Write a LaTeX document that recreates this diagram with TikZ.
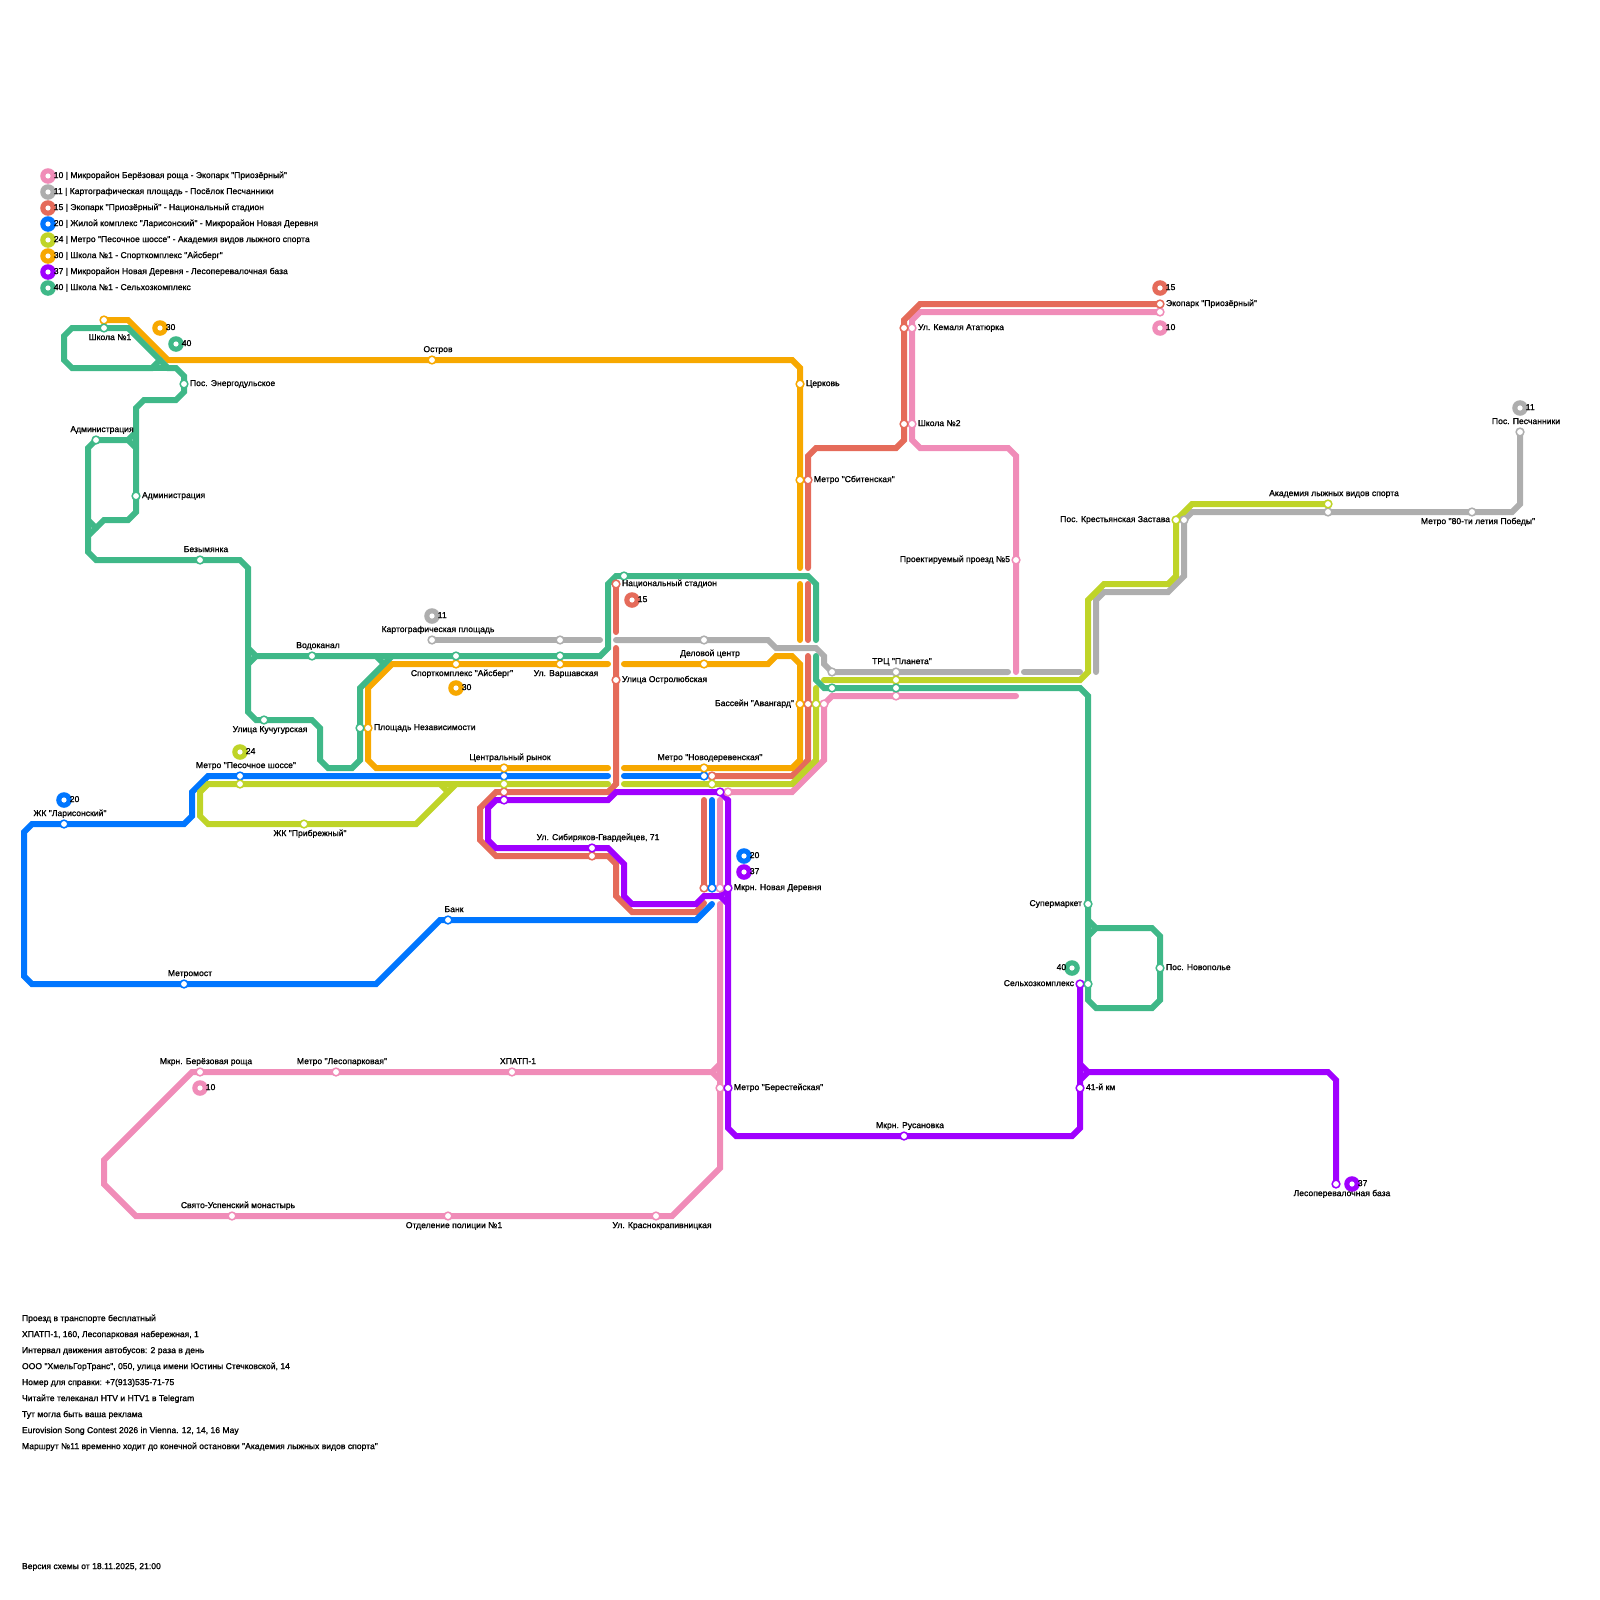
\documentclass[tikz,border=0pt]{standalone}
\usepackage{fontspec}
\newfontfamily\mapfont{Liberation Sans}[FakeBold=1.1]
\usetikzlibrary{positioning, backgrounds}

\definecolor{pinkline}{HTML}{F08CB8}
\definecolor{greyline}{HTML}{AEAEAE}
\definecolor{redline}{HTML}{E56B5A}
\definecolor{blueline}{HTML}{0076FF}
\definecolor{limeline}{HTML}{BFD428}
\definecolor{orangeline}{HTML}{F7A800}
\definecolor{purpleline}{HTML}{A000FF}
\definecolor{greenline}{HTML}{3FB888}

\begin{document}
\begin{tikzpicture}[
    x=0.5pt, y=-0.5pt,
    every node/.style={font=\mapfont\fontsize{4.3}{5}\selectfont},
    route/.style={color=#1, line width=3pt, line cap=round, line join=miter},
    stopmark/.style={circle, fill=#1, minimum size=4.7pt, inner sep=0pt, outer sep=0pt,
        path picture={\fill[white] (path picture bounding box.center) circle (1.45pt);}},
    badgemark/.style={circle, fill=#1, minimum size=7.8pt, inner sep=0pt, outer sep=0pt,
        path picture={\fill[white] (path picture bounding box.center) circle (1.3pt);}},
    tag/.style={inner sep=0pt, outer sep=0pt, text height=2.1pt, text depth=0pt},
    tagright/.style={tag, right=0.65pt of #1},
    tagleft/.style={tag, left=0.65pt of #1},
    tagabove/.style={tag, above=1.6pt of #1, xshift=3pt},
    tagbelow/.style={tag, below=1.6pt of #1, xshift=3pt},
    tagnum/.style={tag, right=-1pt of #1},
    note/.style={tag, anchor=west},
]
\useasboundingbox (0,0) rectangle (1600,1600);

% --- Legend ---
\node[badgemark=pinkline] (leg10) at (48,176) {};
\node[badgemark=greyline] (leg11) at (48,192) {};
\node[badgemark=redline] (leg15) at (48,208) {};
\node[badgemark=blueline] (leg20) at (48,224) {};
\node[badgemark=limeline] (leg24) at (48,240) {};
\node[badgemark=orangeline] (leg30) at (48,256) {};
\node[badgemark=purpleline] (leg37) at (48,272) {};
\node[badgemark=greenline] (leg40) at (48,288) {};
\node[tagnum=leg10] (legt10) {10 | Микрорайон Берёзовая роща - Экопарк "Приозёрный"};
\node[tagnum=leg11] (legt11) {11 | Картографическая площадь - Посёлок Песчанники};
\node[tagnum=leg15] (legt15) {15 | Экопарк "Приозёрный" - Национальный стадион};
\node[tagnum=leg20] (legt20) {20 | Жилой комплекс "Ларисонский" - Микрорайон Новая Деревня};
\node[tagnum=leg24] (legt24) {24 | Метро "Песочное шоссе" - Академия видов лыжного спорта};
\node[tagnum=leg30] (legt30) {30 | Школа №1 - Спорткомплекс "Айсберг"};
\node[tagnum=leg37] (legt37) {37 | Микрорайон Новая Деревня - Лесоперевалочная база};
\node[tagnum=leg40] (legt40) {40 | Школа №1 - Сельхозкомплекс};

% --- Free ends of the routes ---
\coordinate (pinkcutA) at (1016,672);
\coordinate (pinkcutB) at (1016,696);
\coordinate (pinkcutC) at (720,800);
\coordinate (pinkcutD) at (720,904);
\coordinate (pinkjoin) at (720,1064);
\coordinate (greycutA) at (600,640);
\coordinate (greycutB) at (616,640);
\coordinate (greycutC) at (1008,672);
\coordinate (greycutD) at (1024,672);
\coordinate (greycutE) at (1080,672);
\coordinate (greycutF) at (1096,672);
\coordinate (redcutA) at (808,568);
\coordinate (redcutB) at (808,584);
\coordinate (redcutC) at (808,640);
\coordinate (redcutD) at (808,656);
\coordinate (redcutE) at (704,800);
\coordinate (redcutF) at (704,903);
\coordinate (redcutG) at (616,632);
\coordinate (redcutH) at (616,648);
\coordinate (bluecutA) at (608,776);
\coordinate (bluecutB) at (624,776);
\coordinate (bluecutC) at (712,800);
\coordinate (bluecutD) at (712,904);
\coordinate (limecutA) at (608,784);
\coordinate (limecutB) at (624,784);
\coordinate (limecutC) at (816,688);
\coordinate (limecutD) at (824,680);
\coordinate (limejoin) at (440,784);
\coordinate (orangecutA) at (800,568);
\coordinate (orangecutB) at (800,584);
\coordinate (orangecutC) at (800,640);
\coordinate (orangecutD) at (608,664);
\coordinate (orangecutE) at (624,664);
\coordinate (orangecutF) at (608,768);
\coordinate (orangecutG) at (624,768);
\coordinate (greencutA) at (816,640);
\coordinate (greencutB) at (816,656);
\coordinate (greenjoinA) at (160,360);
\coordinate (greenjoinB) at (136,432);
\coordinate (greenjoinC) at (136,448);
\coordinate (greenjoinD) at (88,520);
\coordinate (greenjoinE) at (248,648);
\coordinate (greenjoinF) at (248,664);
\coordinate (greenjoinG) at (376,656);
\coordinate (greenjoinH) at (1088,920);
\coordinate (greenjoinI) at (1088,936);
\coordinate (purplejoinA) at (728,888);
\coordinate (purplejoinB) at (1080,1064);

% --- Stops, route 10 ---
\node[stopmark=pinkline] (ekopark10) at (1160,312) {};
\node[stopmark=pinkline] (kemal10) at (912,328) {};
\node[stopmark=pinkline] (shkola10) at (912,424) {};
\node[stopmark=pinkline] (proezd10) at (1016,560) {};
\node[stopmark=pinkline] (planeta10) at (896,696) {};
\node[stopmark=pinkline] (avangard10) at (824,704) {};
\node[stopmark=pinkline] (novoder10) at (728,792) {};
\node[stopmark=pinkline] (derevnya10) at (720,888) {};
\node[stopmark=pinkline] (berest10) at (720,1088) {};
\node[stopmark=pinkline] (berez10) at (200,1072) {};
\node[stopmark=pinkline] (lespark10) at (336,1072) {};
\node[stopmark=pinkline] (hpatp10) at (512,1072) {};
\node[stopmark=pinkline] (uspen10) at (232,1216) {};
\node[stopmark=pinkline] (policia10) at (448,1216) {};
\node[stopmark=pinkline] (krasno10) at (656,1216) {};

% --- Stops, route 11 ---
\node[stopmark=greyline] (karto11) at (432,640) {};
\node[stopmark=greyline] (varsh11) at (560,640) {};
\node[stopmark=greyline] (delovoy11) at (704,640) {};
\node[stopmark=greyline] (planeta11) at (896,672) {};
\node[stopmark=greyline] (tochka11) at (832,672) {};
\node[stopmark=greyline] (zastava11) at (1184,520) {};
\node[stopmark=greyline] (akadem11) at (1328,512) {};
\node[stopmark=greyline] (pobeda11) at (1472,512) {};
\node[stopmark=greyline] (peschan11) at (1520,432) {};

% --- Stops, route 15 ---
\node[stopmark=redline] (ekopark15) at (1160,304) {};
\node[stopmark=redline] (kemal15) at (904,328) {};
\node[stopmark=redline] (shkola15) at (904,424) {};
\node[stopmark=redline] (sbiten15) at (808,480) {};
\node[stopmark=redline] (stadion15) at (616,584) {};
\node[stopmark=redline] (ostrol15) at (616,680) {};
\node[stopmark=redline] (avangard15) at (808,704) {};
\node[stopmark=redline] (novoder15) at (712,776) {};
\node[stopmark=redline] (derevnya15) at (704,888) {};
\node[stopmark=redline] (rynok15) at (504,792) {};
\node[stopmark=redline] (sibir15) at (592,856) {};

% --- Stops, route 20 ---
\node[stopmark=blueline] (laris20) at (64,824) {};
\node[stopmark=blueline] (pesoch20) at (240,776) {};
\node[stopmark=blueline] (rynok20) at (504,776) {};
\node[stopmark=blueline] (novoder20) at (704,776) {};
\node[stopmark=blueline] (derevnya20) at (712,888) {};
\node[stopmark=blueline] (bank20) at (448,920) {};
\node[stopmark=blueline] (metromost20) at (184,984) {};

% --- Stops, route 24 ---
\node[stopmark=limeline] (pesoch24) at (240,784) {};
\node[stopmark=limeline] (rynok24) at (504,784) {};
\node[stopmark=limeline] (novoder24) at (712,784) {};
\node[stopmark=limeline] (pribrezh24) at (304,824) {};
\node[stopmark=limeline] (avangard24) at (816,704) {};
\node[stopmark=limeline] (planeta24) at (896,680) {};
\node[stopmark=limeline] (zastava24) at (1176,520) {};
\node[stopmark=limeline] (akadem24) at (1328,504) {};

% --- Stops, route 30 ---
\node[stopmark=orangeline] (shkola30) at (104,320) {};
\node[stopmark=orangeline] (ostrov30) at (432,360) {};
\node[stopmark=orangeline] (cerkov30) at (800,384) {};
\node[stopmark=orangeline] (sbiten30) at (800,480) {};
\node[stopmark=orangeline] (aysberg30) at (456,664) {};
\node[stopmark=orangeline] (varsh30) at (560,664) {};
\node[stopmark=orangeline] (delovoy30) at (704,664) {};
\node[stopmark=orangeline] (avangard30) at (800,704) {};
\node[stopmark=orangeline] (nezavis30) at (368,728) {};
\node[stopmark=orangeline] (rynok30) at (504,768) {};
\node[stopmark=orangeline] (novoder30) at (704,768) {};

% --- Stops, route 37 ---
\node[stopmark=purpleline] (novoder37) at (720,792) {};
\node[stopmark=purpleline] (rynok37) at (504,800) {};
\node[stopmark=purpleline] (sibir37) at (592,848) {};
\node[stopmark=purpleline] (derevnya37) at (728,888) {};
\node[stopmark=purpleline] (berest37) at (728,1088) {};
\node[stopmark=purpleline] (rusan37) at (904,1136) {};
\node[stopmark=purpleline] (km37) at (1080,1088) {};
\node[stopmark=purpleline] (selhoz37) at (1080,984) {};
\node[stopmark=purpleline] (baza37) at (1336,1184) {};

% --- Stops, route 40 ---
\node[stopmark=greenline] (shkola40) at (104,328) {};
\node[stopmark=greenline] (energo40) at (184,384) {};
\node[stopmark=greenline] (adminA40) at (96,440) {};
\node[stopmark=greenline] (adminB40) at (136,496) {};
\node[stopmark=greenline] (bezym40) at (200,560) {};
\node[stopmark=greenline] (vodokan40) at (312,656) {};
\node[stopmark=greenline] (kuchug40) at (264,720) {};
\node[stopmark=greenline] (nezavis40) at (360,728) {};
\node[stopmark=greenline] (aysberg40) at (456,656) {};
\node[stopmark=greenline] (varsh40) at (560,656) {};
\node[stopmark=greenline] (stadion40) at (624,576) {};
\node[stopmark=greenline] (tochka40) at (832,688) {};
\node[stopmark=greenline] (planeta40) at (896,688) {};
\node[stopmark=greenline] (superm40) at (1088,904) {};
\node[stopmark=greenline] (novopol40) at (1160,968) {};
\node[stopmark=greenline] (selhoz40) at (1088,984) {};

% --- Routes ---
\begin{scope}[on background layer]
    \draw[route=pinkline] (ekopark10.center) -- (920,312) -- (912,320) -- (912,440) -- (920,448) -- (1008,448) -- (1016,456) -- (pinkcutA);
    \draw[route=pinkline] (pinkcutB) -- (832,696) -- (824,704) -- (824,760) -- (792,792) -- (novoder10.center);
    \draw[route=pinkline] (pinkcutC) -- (derevnya10.center);
    \draw[route=pinkline] (pinkcutD) -- (720,1168) -- (672,1216) -- (136,1216) -- (104,1184) -- (104,1160) -- (192,1072) -- (712,1072) -- (pinkjoin);
    \draw[route=pinkline] (712,1072) -- (720,1080);

    \draw[route=greyline] (karto11.center) -- (greycutA);
    \draw[route=greyline] (greycutB) -- (768,640) -- (776,648) -- (816,648) -- (824,656) -- (824,664) -- (tochka11.center) -- (greycutC);
    \draw[route=greyline] (greycutD) -- (greycutE);
    \draw[route=greyline] (greycutF) -- (1096,600) -- (1104,592) -- (1168,592) -- (1184,576) -- (1184,520) -- (1192,512) -- (1512,512) -- (1520,504) -- (peschan11.center);

    \draw[route=redline] (ekopark15.center) -- (920,304) -- (904,320) -- (904,440) -- (896,448) -- (816,448) -- (808,456) -- (redcutA);
    \draw[route=redline] (redcutB) -- (redcutC);
    \draw[route=redline] (redcutD) -- (808,760) -- (792,776) -- (novoder15.center);
    \draw[route=redline] (redcutE) -- (derevnya15.center);
    \draw[route=redline] (redcutF) -- (696,912) -- (632,912) -- (616,896) -- (616,864) -- (608,856) -- (496,856) -- (480,840) -- (480,808) -- (496,792) -- (608,792) -- (616,784) -- (redcutH);
    \draw[route=redline] (redcutG) -- (stadion15.center);

    \draw[route=blueline] (bluecutA) -- (208,776) -- (192,792) -- (192,816) -- (184,824) -- (32,824) -- (24,832) -- (24,976) -- (32,984) -- (376,984) -- (440,920) -- (696,920) -- (bluecutD);
    \draw[route=blueline] (bluecutB) -- (novoder20.center);
    \draw[route=blueline] (bluecutC) -- (derevnya20.center);

    \draw[route=limeline] (limecutA) -- (208,784) -- (200,792) -- (200,816) -- (208,824) -- (416,824) -- (456,784);
    \draw[route=limeline] (limejoin) -- (448,792);
    \draw[route=limeline] (limecutB) -- (792,784) -- (816,760) -- (limecutC);
    \draw[route=limeline] (limecutD) -- (1080,680) -- (1088,672) -- (1088,600) -- (1104,584) -- (1168,584) -- (1176,576) -- (1176,520) -- (1192,504) -- (akadem24.center);

    \draw[route=orangeline] (shkola30.center) -- (128,320) -- (168,360) -- (792,360) -- (800,368) -- (orangecutA);
    \draw[route=orangeline] (orangecutB) -- (orangecutC);
    \draw[route=orangeline] (orangecutD) -- (392,664) -- (368,688) -- (368,760) -- (376,768) -- (orangecutF);
    \draw[route=orangeline] (orangecutE) -- (768,664) -- (776,656) -- (792,656) -- (800,664) -- (800,760) -- (792,768) -- (orangecutG);

    \draw[route=purpleline] (novoder37.center) -- (616,792) -- (608,800) -- (496,800) -- (488,808) -- (488,840) -- (496,848) -- (608,848) -- (624,864) -- (624,896) -- (632,904) -- (696,904) -- (704,896) -- (720,896) -- (728,904);
    \draw[route=purpleline] (novoder37.center) -- (728,800) -- (728,1128) -- (736,1136) -- (1072,1136) -- (1080,1128) -- (selhoz37.center);
    \draw[route=purpleline] (purplejoinA) -- (720,896);
    \draw[route=purpleline] (purplejoinB) -- (1088,1072) -- (1328,1072) -- (1336,1080) -- (baza37.center);
    \draw[route=purpleline] (1080,1080) -- (1088,1072);

    \draw[route=greenline] (shkola40.center) -- (128,328) -- (168,368) -- (176,368) -- (184,376) -- (184,392) -- (176,400) -- (144,400) -- (136,408) -- (136,512) -- (128,520) -- (104,520) -- (88,536) -- (88,552) -- (96,560) -- (240,560) -- (248,568) -- (248,712) -- (256,720) -- (312,720) -- (320,728) -- (320,760) -- (328,768) -- (352,768) -- (360,760) -- (360,688) -- (392,656) -- (600,656) -- (608,648) -- (608,584) -- (616,576) -- (808,576) -- (816,584) -- (greencutA);
    \draw[route=greenline] (shkola40.center) -- (72,328) -- (64,336) -- (64,360) -- (72,368) -- (152,368) -- (greenjoinA);
    \draw[route=greenline] (152,368) -- (168,368);
    \draw[route=greenline] (adminA40.center) -- (88,448) -- (88,536);
    \draw[route=greenline] (adminA40.center) -- (128,440) -- (greenjoinB);
    \draw[route=greenline] (128,440) -- (greenjoinC);
    \draw[route=greenline] (greenjoinD) -- (96,528);
    \draw[route=greenline] (greenjoinE) -- (256,656) -- (392,656);
    \draw[route=greenline] (greenjoinF) -- (256,656);
    \draw[route=greenline] (greenjoinG) -- (384,664);
    \draw[route=greenline] (greencutB) -- (816,680) -- (824,688) -- (1080,688) -- (1088,696) -- (1088,1000) -- (1096,1008) -- (1152,1008) -- (1160,1000) -- (1160,936) -- (1152,928) -- (1096,928) -- (greenjoinH);
    \draw[route=greenline] (1096,928) -- (greenjoinI);
\end{scope}

% --- Route numbers on the map ---
\node[badgemark=orangeline] (num30a) at (160,328) {};
\node[tagnum=num30a] (numt30a) {30};
\node[badgemark=greenline] (num40a) at (176,344) {};
\node[tagnum=num40a] (numt40a) {40};
\node[badgemark=greyline] (num11a) at (432,616) {};
\node[tagnum=num11a] (numt11a) {11};
\node[badgemark=redline] (num15a) at (632,600) {};
\node[tagnum=num15a] (numt15a) {15};
\node[badgemark=orangeline] (num30b) at (456,688) {};
\node[tagnum=num30b] (numt30b) {30};
\node[badgemark=limeline] (num24a) at (240,752) {};
\node[tagnum=num24a] (numt24a) {24};
\node[badgemark=blueline] (num20a) at (64,800) {};
\node[tagnum=num20a] (numt20a) {20};
\node[badgemark=blueline] (num20b) at (744,856) {};
\node[tagnum=num20b] (numt20b) {20};
\node[badgemark=purpleline] (num37a) at (744,872) {};
\node[tagnum=num37a] (numt37a) {37};
\node[badgemark=redline] (num15b) at (1160,288) {};
\node[tagnum=num15b] (numt15b) {15};
\node[badgemark=pinkline] (num10a) at (1160,328) {};
\node[tagnum=num10a] (numt10a) {10};
\node[badgemark=greyline] (num11b) at (1520,408) {};
\node[tagnum=num11b] (numt11b) {11};
\node[badgemark=greenline] (num40b) at (1072,968) {};
\node[tag, left=-1pt of num40b] (numt40b) {40};
\node[badgemark=purpleline] (num37b) at (1352,1184) {};
\node[tagnum=num37b] (numt37b) {37};
\node[badgemark=pinkline] (num10b) at (200,1088) {};
\node[tagnum=num10b] (numt10b) {10};

% --- Stop names ---
\node[tagbelow=shkola40] (nshkola) {Школа №1};
\node[tagright=energo40] (nenergo) {Пос. Энергодульское};
\node[tagabove=adminA40] (nadminA) {Администрация};
\node[tagright=adminB40] (nadminB) {Администрация};
\node[tagabove=bezym40] (nbezym) {Безымянка};
\node[tagabove=vodokan40] (nvodokan) {Водоканал};
\node[tagbelow=kuchug40] (nkuchug) {Улица Кучугурская};
\node[tagabove=pesoch20] (npesoch) {Метро "Песочное шоссе"};
\node[tagabove=laris20] (nlaris) {ЖК "Ларисонский"};
\node[tagbelow=pribrezh24] (npribrezh) {ЖК "Прибрежный"};
\node[tagabove=metromost20] (nmetromost) {Метромост};
\node[tagabove=bank20] (nbank) {Банк};
\node[tagabove=ostrov30] (nostrov) {Остров};
\node[tagright=cerkov30] (ncerkov) {Церковь};
\node[tagbelow=aysberg30] (naysberg) {Спорткомплекс "Айсберг"};
\node[tagbelow=varsh30] (nvarsh) {Ул. Варшавская};
\node[tagabove=karto11] (nkarto) {Картографическая площадь};
\node[tagabove=rynok30] (nrynok) {Центральный рынок};
\node[tagright=nezavis30] (nnezavis) {Площадь Независимости};
\node[tagabove=sibir37] (nsibir) {Ул. Сибиряков-Гвардейцев, 71};
\node[tagright=stadion15] (nstadion) {Национальный стадион};
\node[tagright=ostrol15] (nostrol) {Улица Остролюбская};
\node[tagabove=delovoy30] (ndelovoy) {Деловой центр};
\node[tagabove=novoder30] (nnovoder) {Метро "Новодеревенская"};
\node[tagleft=avangard30] (navangard) {Бассейн "Авангард"};
\node[tagright=derevnya37] (nderevnya) {Мкрн. Новая Деревня};
\node[tagright=sbiten15] (nsbiten) {Метро "Сбитенская"};
\node[tagright=kemal10] (nkemal) {Ул. Кемаля Ататюрка};
\node[tagright=shkola10] (nshkolaB) {Школа №2};
\node[tagright=ekopark15] (nekopark) {Экопарк "Приозёрный"};
\node[tagleft=proezd10] (nproezd) {Проектируемый проезд №5};
\node[tagabove=planeta11] (nplaneta) {ТРЦ "Планета"};
\node[tagleft=zastava24] (nzastava) {Пос. Крестьянская Застава};
\node[tagabove=akadem24] (nakadem) {Академия лыжных видов спорта};
\node[tagbelow=pobeda11] (npobeda) {Метро "80-ти летия Победы"};
\node[tagabove=peschan11] (npeschan) {Пос. Песчанники};
\node[tagleft=superm40] (nsuperm) {Супермаркет};
\node[tagright=novopol40] (nnovopol) {Пос. Новополье};
\node[tagleft=selhoz37] (nselhoz) {Сельхозкомплекс};
\node[tagright=km37] (nkm) {41-й км};
\node[tagbelow=baza37] (nbaza) {Лесоперевалочная база};
\node[tagabove=rusan37] (nrusan) {Мкрн. Русановка};
\node[tagright=berest37] (nberest) {Метро "Берестейская"};
\node[tagabove=berez10] (nberez) {Мкрн. Берёзовая роща};
\node[tagabove=lespark10] (nlespark) {Метро "Лесопарковая"};
\node[tagabove=hpatp10] (nhpatp) {ХПАТП-1};
\node[tagabove=uspen10] (nuspen) {Свято-Успенский монастырь};
\node[tagbelow=policia10] (npolicia) {Отделение полиции №1};
\node[tagbelow=krasno10] (nkrasno) {Ул. Краснокрапивницкая};

% --- Notes ---
\node[note] (noteA) at (22,1319) {Проезд в транспорте бесплатный};
\node[note] (noteB) at (22,1335) {ХПАТП-1, 160, Лесопарковая набережная, 1};
\node[note] (noteC) at (22,1351) {Интервал движения автобусов: 2 раза в день};
\node[note] (noteD) at (22,1367) {ООО "ХмельГорТранс", 050, улица имени Юстины Стечковской, 14};
\node[note] (noteE) at (22,1383) {Номер для справки: +7(913)535-71-75};
\node[note] (noteF) at (22,1399) {Читайте телеканал HTV и HTV1 в Telegram};
\node[note] (noteG) at (22,1415) {Тут могла быть ваша реклама};
\node[note] (noteH) at (22,1431) {Eurovision Song Contest 2026 in Vienna. 12, 14, 16 May};
\node[note] (noteI) at (22,1447) {Маршрут №11 временно ходит до конечной остановки "Академия лыжных видов спорта"};
\node[note] (noteJ) at (22,1567) {Версия схемы от 18.11.2025, 21:00};

\end{tikzpicture}
\end{document}
